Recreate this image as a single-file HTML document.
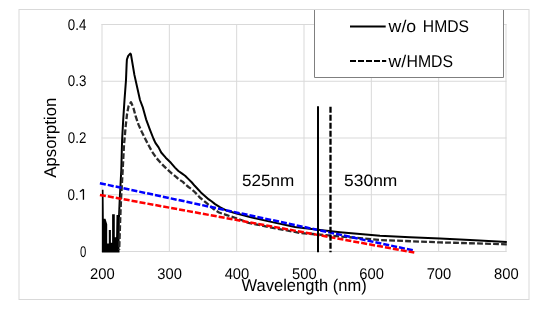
<!DOCTYPE html>
<html><head><meta charset="utf-8"><style>
html,body{margin:0;padding:0;background:#fff;}
svg{display:block;}
</style></head><body>
<svg width="550" height="311" viewBox="0 0 550 311" style="text-rendering:geometricPrecision;will-change:transform">
<rect x="0" y="0" width="550" height="311" fill="#fff"/>
<rect x="19" y="9.5" width="510" height="290" fill="#fff" stroke="#d9d9d9" stroke-width="1"/>
<g stroke="#d9d9d9" stroke-width="1" fill="none">
<line x1="102.00" y1="24" x2="102.00" y2="252" />
<line x1="169.33" y1="24" x2="169.33" y2="252" />
<line x1="236.67" y1="24" x2="236.67" y2="252" />
<line x1="304.00" y1="24" x2="304.00" y2="252" />
<line x1="371.33" y1="24" x2="371.33" y2="252" />
<line x1="438.67" y1="24" x2="438.67" y2="252" />
<line x1="506.00" y1="24" x2="506.00" y2="252" />
<line x1="101.5" y1="24.50" x2="506.5" y2="24.50" />
<line x1="101.5" y1="81.25" x2="506.5" y2="81.25" />
<line x1="101.5" y1="138.00" x2="506.5" y2="138.00" />
<line x1="101.5" y1="194.75" x2="506.5" y2="194.75" />
<line x1="101.5" y1="251.50" x2="506.5" y2="251.50" />
</g>
<g fill="none" stroke-linejoin="round">
<polygon points="101.9,252.5 101.9,189.8 103.5,189.8 103.8,218.7 105.5,218.7 107.2,224.3 107.2,243.6 108.8,243.6 108.8,229.9 110.9,229.9 110.9,242.8 112.1,242.8 112.1,214.2 114.8,214.2 114.8,237.2 116.1,237.2 116.5,215.0 119.0,215.0 119.5,252.5" fill="#000" stroke="none"/>
<polyline points="118.0,250.0 118.9,220.0 119.7,200.0 121.3,170.0 122.1,140.0 123.2,120.0 124.5,100.0 126.0,80.0 126.6,65.0 126.9,59.5 128.2,55.8 130.2,53.6 130.9,54.2 134.4,74.9 140.0,100.0 142.9,107.7 146.1,119.3 149.9,129.6 153.4,138.5 155.4,142.9 158.6,147.4 161.2,152.5 165.7,157.7 170.9,162.8 175.0,167.6 178.4,171.0 181.8,173.4 185.1,175.7 188.5,179.1 191.9,182.5 194.7,185.8 197.5,188.7 200.9,192.4 204.3,195.4 208.8,199.4 211.5,201.3 215.1,204.1 220.3,207.4 226.7,210.6 235.7,213.2 243.4,215.3 250.0,217.0 270.0,221.6 295.0,226.9 318.0,229.8 340.0,232.2 380.0,235.7 410.0,237.3 440.0,238.4 470.0,240.0 506.8,241.9" stroke="#000" stroke-width="2"/>
<polyline points="119.2,250.0 120.2,220.0 121.0,200.0 122.7,170.0 124.0,145.0 125.8,125.0 127.1,113.6 128.6,106.0 131.0,102.2 133.4,107.8 135.8,116.7 138.4,124.4 141.6,131.5 144.8,137.9 148.2,144.6 152.1,151.7 156.6,158.2 161.7,163.9 166.9,169.1 172.0,173.6 176.1,176.8 178.4,179.0 182.9,181.9 185.1,184.2 188.5,187.0 191.9,189.4 194.7,192.0 197.5,194.9 199.8,197.5 206.4,202.9 213.9,209.3 219.0,212.5 226.7,215.1 235.7,218.0 248.6,222.8 270.0,227.3 300.0,232.9 340.0,236.5 360.0,238.1 380.0,240.0 440.0,242.4 506.8,244.3" stroke="#2a2a2a" stroke-width="2.3" stroke-dasharray="5.8 2.2" stroke-dashoffset="-3.05"/>
<line x1="99.9" y1="183.2" x2="413.3" y2="250.4" stroke="#0000ff" stroke-width="2.5" stroke-dasharray="6.04 2.01"/>
<line x1="99.9" y1="194.9" x2="414.3" y2="252.6" stroke="#ff0000" stroke-width="2.5" stroke-dasharray="6.04 2.01"/>
<line x1="318" y1="106.3" x2="318" y2="252.3" stroke="#000" stroke-width="2"/>
<line x1="330.5" y1="106.8" x2="330.5" y2="252.3" stroke="#000" stroke-width="2.3" stroke-dasharray="6 2"/>
</g>
<g font-family="Liberation Sans, sans-serif" font-size="15" fill="#000">
<text x="86.3" y="29.5" font-size="15.5" text-anchor="end" textLength="18.5" lengthAdjust="spacingAndGlyphs">0.4</text>
<text x="86.3" y="86.2" font-size="15.5" text-anchor="end" textLength="18.5" lengthAdjust="spacingAndGlyphs">0.3</text>
<text x="86.3" y="143.0" font-size="15.5" text-anchor="end" textLength="18.5" lengthAdjust="spacingAndGlyphs">0.2</text>
<text x="67.6" y="199.8" font-size="15.5" textLength="11.2" lengthAdjust="spacingAndGlyphs">0.</text>
<path d="M83.45,189.2 V199.8 M80.0,191.8 L83.3,189.3" stroke="#000" stroke-width="1.3" fill="none"/>
<text x="86.3" y="256.5" font-size="15.5" text-anchor="end" textLength="6.3" lengthAdjust="spacingAndGlyphs">0</text>
<text x="102.30" y="278.5" font-size="15.5" text-anchor="middle" textLength="24.6" lengthAdjust="spacingAndGlyphs">200</text>
<text x="169.63" y="278.5" font-size="15.5" text-anchor="middle" textLength="24.6" lengthAdjust="spacingAndGlyphs">300</text>
<text x="236.97" y="278.5" font-size="15.5" text-anchor="middle" textLength="24.6" lengthAdjust="spacingAndGlyphs">400</text>
<text x="304.30" y="278.5" font-size="15.5" text-anchor="middle" textLength="24.6" lengthAdjust="spacingAndGlyphs">500</text>
<text x="371.63" y="278.5" font-size="15.5" text-anchor="middle" textLength="24.6" lengthAdjust="spacingAndGlyphs">600</text>
<text x="438.97" y="278.5" font-size="15.5" text-anchor="middle" textLength="24.6" lengthAdjust="spacingAndGlyphs">700</text>
<text x="506.30" y="278.5" font-size="15.5" text-anchor="middle" textLength="24.6" lengthAdjust="spacingAndGlyphs">800</text>
<text x="241.6" y="290.9" font-size="17" textLength="125.1" lengthAdjust="spacingAndGlyphs">Wavelength (nm)</text>
<text transform="translate(56.4,177.7) rotate(-90)" x="0" y="0" font-size="17" textLength="80" lengthAdjust="spacingAndGlyphs">Apsorption</text>
<text x="241.9" y="186.3" font-size="16.5" textLength="52.4" lengthAdjust="spacingAndGlyphs">525nm</text>
<text x="344.1" y="186.3" font-size="16.5" textLength="53.3" lengthAdjust="spacingAndGlyphs">530nm</text>
</g>
<rect x="314.5" y="10" width="189" height="67.5" fill="#fff"/>
<polyline points="314.5,10 314.5,77.5 503.5,77.5 503.5,10" fill="none" stroke="#7f7f7f" stroke-width="1"/>
<line x1="350" y1="26.5" x2="385.7" y2="26.5" stroke="#000" stroke-width="2"/>
<line x1="350" y1="61" x2="386.2" y2="61" stroke="#000" stroke-width="2" stroke-dasharray="6 2"/>
<g font-family="Liberation Sans, sans-serif" font-size="17" fill="#000">
<text x="388.6" y="32.1" textLength="27.6" lengthAdjust="spacingAndGlyphs">w/o</text><text x="422.8" y="32.1" textLength="46.2" lengthAdjust="spacingAndGlyphs">HMDS</text>
<text x="388.6" y="66.5" textLength="17.6" lengthAdjust="spacingAndGlyphs">w/</text><text x="406.5" y="66.5" textLength="46.6" lengthAdjust="spacingAndGlyphs">HMDS</text>
</g>
</svg>
</body></html>
